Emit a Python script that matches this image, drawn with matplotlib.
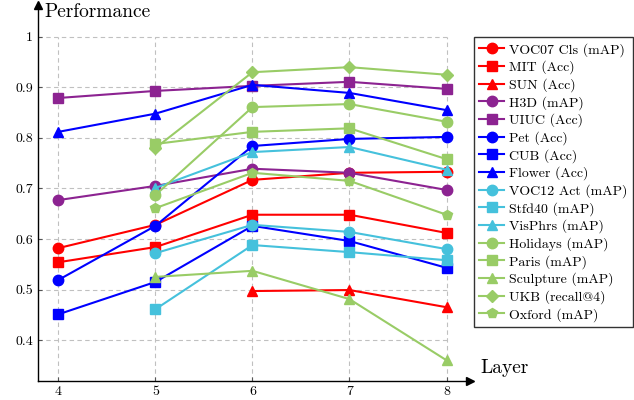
import matplotlib.pyplot as plt
import numpy as np

plt.rcParams['font.family'] = ['cmr10', 'DejaVu Serif']
plt.rcParams['mathtext.fontset'] = 'cm'
plt.rcParams['axes.formatter.use_mathtext'] = True

# Datos
capas = [4, 5, 6, 7, 8]
voc07 = [0.582, 0.628, 0.717, 0.731, 0.733]
mit = [0.554, 0.584, 0.648, 0.648, 0.612]
sun = [None, None, 0.497, 0.499, 0.465]
h3d = [0.677, 0.705, 0.739, 0.731, 0.697]
uiuc = [0.879, 0.893, 0.903, 0.911, 0.897]
pet = [0.519, 0.626, 0.784, 0.798, 0.802]
cub = [0.451, 0.515, 0.626, 0.596, 0.543]
flower = [0.812, 0.848, 0.905, 0.889, 0.855]
voc12 = [None, 0.572, 0.628, 0.614, 0.580]
stfd40 = [None, 0.461, 0.588, 0.574, 0.558]
visphrs = [None, 0.701, 0.772, 0.782, 0.737]
holidays = [None, 0.687, 0.861, 0.867, 0.832]
paris = [None, 0.788, 0.812, 0.819, 0.758]
sculpture = [None, 0.525, 0.537, 0.481, 0.360]
ukb = [None, 0.780, 0.930, 0.940, 0.925]
oxford = [None, 0.661, 0.731, 0.715, 0.648]

rojo = '#ff0000'
morado = '#8c2391'
azul = '#0000ff'
cian = '#45c1dc'
verde = '#99cc66'

series = [
    ('VOC07 Cls (mAP)', voc07, rojo, 'o'),
    ('MIT (Acc)', mit, rojo, 's'),
    ('SUN (Acc)', sun, rojo, '^'),
    ('H3D (mAP)', h3d, morado, 'o'),
    ('UIUC (Acc)', uiuc, morado, 's'),
    ('Pet (Acc)', pet, azul, 'o'),
    ('CUB (Acc)', cub, azul, 's'),
    ('Flower (Acc)', flower, azul, '^'),
    ('VOC12 Act (mAP)', voc12, cian, 'o'),
    ('Stfd40 (mAP)', stfd40, cian, 's'),
    ('VisPhrs (mAP)', visphrs, cian, '^'),
    ('Holidays (mAP)', holidays, verde, 'o'),
    ('Paris (mAP)', paris, verde, 's'),
    ('Sculpture (mAP)', sculpture, verde, '^'),
    ('UKB (recall@4)', ukb, verde, 'D'),
    ('Oxford (mAP)', oxford, verde, 'p'),
]

fig = plt.figure(figsize=(6.34, 4.0), dpi=100)
ax = fig.add_axes([0.06, 0.0475, 0.681, 0.94])
ax.set_xlim(3.79, 8.24)
ax.set_ylim(0.319, 1.063)

# Rejilla discontinua
for y in [0.4, 0.5, 0.6, 0.7, 0.8, 0.9, 1.0]:
    ax.plot([3.79, 8], [y, y], color='#c0c0c0', lw=0.8, ls=(0, (4, 3)), zorder=0)
for x in capas:
    ax.plot([x, x], [0.319, 1.0], color='#c0c0c0', lw=0.8, ls=(0, (4, 3)), zorder=0)

for nombre, valores, color, marca in series:
    xs = [c for c, v in zip(capas, valores) if v is not None]
    ys = [v for v in valores if v is not None]
    ms = 6 if marca == 'D' else 7.5
    ax.plot(xs, ys, color=color, marker=marca, ms=ms, lw=1.5, label=nombre, clip_on=False)

for s in ['top', 'right']:
    ax.spines[s].set_visible(False)
ax.spines['left'].set_linewidth(1.0)
ax.spines['bottom'].set_linewidth(1.0)
ax.plot(1, 0, '>k', ms=6, transform=ax.transAxes, clip_on=False)
ax.plot(0, 1, '^k', ms=6, transform=ax.transAxes, clip_on=False)

ax.set_xticks(capas)
ax.set_xticklabels([str(c) for c in capas])
ax.set_yticks([0.4, 0.5, 0.6, 0.7, 0.8, 0.9, 1.0])
ax.set_yticklabels(['0.4', '0.5', '0.6', '0.7', '0.8', '0.9', '1'])
ax.tick_params(labelsize=10, length=3, direction='in', color='#555555')

fig.text(44 / 634, 1 - 12 / 400, 'Performance', fontsize=14, va='center', ha='left')
fig.text(480 / 634, 1 - 368 / 400, 'Layer', fontsize=14, va='center', ha='left')

leg = ax.legend(loc='upper left', bbox_to_anchor=(1.0095, 0.914), fontsize=10, frameon=True,
                fancybox=False, edgecolor='black', handlelength=1.8, handletextpad=0.3,
                labelspacing=0.28, borderpad=0.4, borderaxespad=0)
leg.get_frame().set_linewidth(1.0)

plt.savefig('out.png', dpi=100)
